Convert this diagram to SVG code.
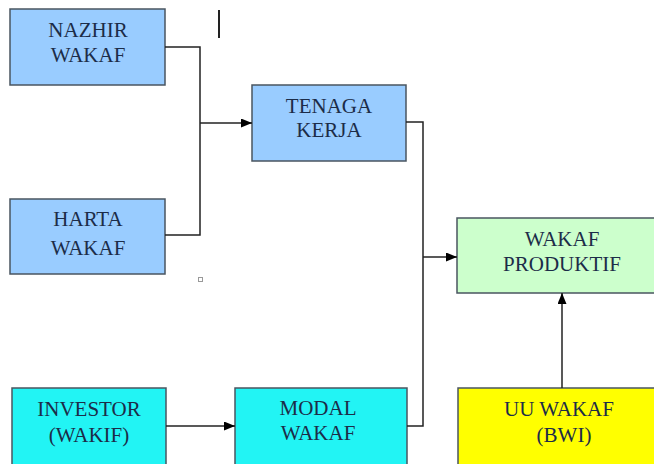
<svg xmlns="http://www.w3.org/2000/svg" width="654" height="464" viewBox="0 0 654 464">
<defs>
<marker id="arr" markerWidth="11" markerHeight="9" refX="11" refY="4.5" orient="auto" markerUnits="userSpaceOnUse">
<path d="M0,0 L11,4.5 L0,9 Z" fill="#000"/>
</marker>
<style>
.box{stroke:#4a5560;stroke-width:1.5}
.blue{fill:#99ccff}
.cyan{fill:#22f4f4}
.green{fill:#ccffcc}
.yellow{fill:#ffff00}
.t{font-size:21px;fill:#1c2c48;text-anchor:middle}
.c{fill:none;stroke:#222;stroke-width:1.5}
</style>
</defs>
<rect width="654" height="464" fill="#fff"/>
<g id="nazhir">
<rect class="box blue" x="10" y="9" width="155" height="76"/>
<text class="t" font-family="Liberation Serif" x="88" y="37">NAZHIR</text>
<text class="t" font-family="Liberation Serif" x="88" y="62">WAKAF</text>
</g>
<g id="harta">
<rect class="box blue" x="10" y="199" width="155" height="75"/>
<text class="t" font-family="Liberation Serif" x="88" y="226">HARTA</text>
<text class="t" font-family="Liberation Serif" x="88" y="255">WAKAF</text>
</g>
<g id="tenaga">
<rect class="box blue" x="252" y="85" width="154" height="76"/>
<text class="t" font-family="Liberation Serif" x="329" y="113">TENAGA</text>
<text class="t" font-family="Liberation Serif" x="329" y="137">KERJA</text>
</g>
<g id="produktif">
<rect class="box green" x="457" y="218" width="200" height="75"/>
<text class="t" font-family="Liberation Serif" x="562" y="246">WAKAF</text>
<text class="t" font-family="Liberation Serif" x="562" y="271">PRODUKTIF</text>
</g>
<g id="investor">
<rect class="box cyan" x="12" y="388" width="154" height="80"/>
<text class="t" font-family="Liberation Serif" x="89" y="416">INVESTOR</text>
<text class="t" font-family="Liberation Serif" x="89" y="442">(WAKIF)</text>
</g>
<g id="modal">
<rect class="box cyan" x="235" y="388" width="172" height="80"/>
<text class="t" font-family="Liberation Serif" x="318" y="415">MODAL</text>
<text class="t" font-family="Liberation Serif" x="318" y="440">WAKAF</text>
</g>
<g id="uu">
<rect class="box yellow" x="458" y="388" width="200" height="80"/>
<text class="t" font-family="Liberation Serif" x="559" y="416">UU WAKAF</text>
<text class="t" font-family="Liberation Serif" x="564" y="442">(BWI)</text>
</g>
<g id="connectors">
<polyline class="c" points="165,47 200,47 200,235 165,235"/>
<line class="c" x1="200" y1="123" x2="252" y2="123" marker-end="url(#arr)"/>
<polyline class="c" points="406,122 423,122 423,426 407,426"/>
<line class="c" x1="423" y1="257" x2="457" y2="257" marker-end="url(#arr)"/>
<line class="c" x1="166" y1="426" x2="235" y2="426" marker-end="url(#arr)"/>
<line class="c" x1="562" y1="388" x2="562" y2="293" marker-end="url(#arr)"/>
</g>
<line x1="219" y1="10" x2="219" y2="38" stroke="#222" stroke-width="2"/>
<rect x="198.5" y="277.5" width="4" height="4" fill="none" stroke="#999" stroke-width="1"/>
</svg>
